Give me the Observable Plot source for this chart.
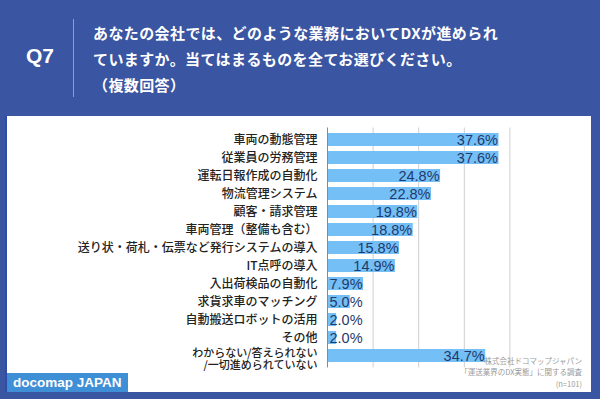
<!DOCTYPE html>
<html>
<head>
<meta charset="utf-8">
<script src="https://cdn.jsdelivr.net/npm/d3@7"></script>
<script src="https://cdn.jsdelivr.net/npm/@observablehq/plot@0.6"></script>
<style>
  html, body { margin: 0; padding: 0; }
  body { width: 600px; height: 399px; background: #3a55a1; position: relative; overflow: hidden;
         font-family: "Noto Sans CJK JP", "Noto Sans", sans-serif; }
  #q { position: absolute; left: 26px; top: 44px; color: #fff; font: bold 21px "Liberation Sans", Arial, sans-serif; }
  #divider { position: absolute; left: 73px; top: 19px; width: 1px; height: 78px; background: #8e9fcc; }
  #question { position: absolute; left: 93px; top: 20px; color: #fff; font-weight: bold; font-size: 15px;
              line-height: 26px; letter-spacing: 0.4px; }
  #panel { position: absolute; left: 7px; top: 116px; width: 584px; height: 276px; background: #fff;
           box-shadow: -2px 0 0 #2f4ca6; }
  #panel svg { position: absolute; left: 0; top: 0; }
  #badge { position: absolute; left: 7px; top: 373px; width: 121px; height: 19px; background: #3f8fd6;
           color: #fff; font: bold 13.5px "Liberation Sans", Arial, sans-serif; line-height: 19px;
           padding-left: 6px; box-sizing: border-box; }
  #source { position: absolute; right: 18px; top: 355px; text-align: right; color: #9a9a9a;
            font-size: 7.5px; line-height: 11.3px; }
</style>
</head>
<body>
<div id="q">Q7</div>
<div id="divider"></div>
<div id="question">あなたの会社では、どのような業務においてDXが進められ<br>ていますか。当てはまるものを全てお選びください。<br>（複数回答）</div>
<div id="panel"></div>
<div id="badge">docomap JAPAN</div>
<div id="source">株式会社ドコマップジャパン<br>「運送業界のDX実態」に関する調査<br>(n=101)</div>
<script>
const categories = [
  "車両の動態管理",
  "従業員の労務管理",
  "運転日報作成の自動化",
  "物流管理システム",
  "顧客・請求管理",
  "車両管理（整備も含む）",
  "送り状・荷札・伝票など発行システムの導入",
  "IT点呼の導入",
  "入出荷検品の自動化",
  "求貨求車のマッチング",
  "自動搬送ロボットの活用",
  "その他",
  "わからない/答えられない\n/一切進められていない"
];
const values = [37.6, 37.6, 24.8, 22.8, 19.8, 18.8, 15.8, 14.9, 7.9, 5.0, 2.0, 2.0, 34.7];
const gridTicks = [10, 20, 30, 40];

const data = categories.map((c, i) => ({category: c, value: values[i]}));
const big = data.filter(d => d.value >= 10);
const small = data.filter(d => d.value < 10);
const single = data.filter(d => !d.category.includes("\n"));
const multi = data.filter(d => d.category.includes("\n"));

const labelFont = {fill: "#222", fontWeight: 500, textAnchor: "end", dx: -10};
const valueFont = {fill: "#1f3a6d", fontSize: 14.5, fontFamily: "'Liberation Sans', Arial, sans-serif"};

const chart = Plot.plot({
  width: 584,
  height: 276,
  marginLeft: 320,
  marginRight: 36,
  marginTop: 11.5,
  marginBottom: 24.6,
  style: {background: "transparent", fontFamily: "'Noto Sans CJK JP', sans-serif"},
  x: {domain: [0, 50], axis: null},
  y: {domain: categories, paddingInner: 0.29, paddingOuter: 0.2, axis: null},
  marks: [
    Plot.ruleX(gridTicks, {stroke: "#cfcfcf", strokeWidth: 1}),
    Plot.barX(data, {y: "category", x: "value", fill: "#74bff6"}),
    Plot.ruleX([0], {stroke: "#8a8a8a", strokeWidth: 1}),
    Plot.text(single, {y: "category", frameAnchor: "left", text: "category", fontSize: 12, ...labelFont}),
    Plot.text(multi, {y: "category", frameAnchor: "left", text: "category", fontSize: 11, lineHeight: 1.05, dy: 3.5, ...labelFont}),
    Plot.text(big, {y: "category", x: "value", text: d => d.value.toFixed(1) + "%", textAnchor: "end", dx: -1, ...valueFont}),
    Plot.text(small, {y: "category", x: 0, text: d => d.value.toFixed(1) + "%", textAnchor: "start", dx: 2, ...valueFont})
  ]
});
document.getElementById("panel").appendChild(chart);
</script>
</body>
</html>
